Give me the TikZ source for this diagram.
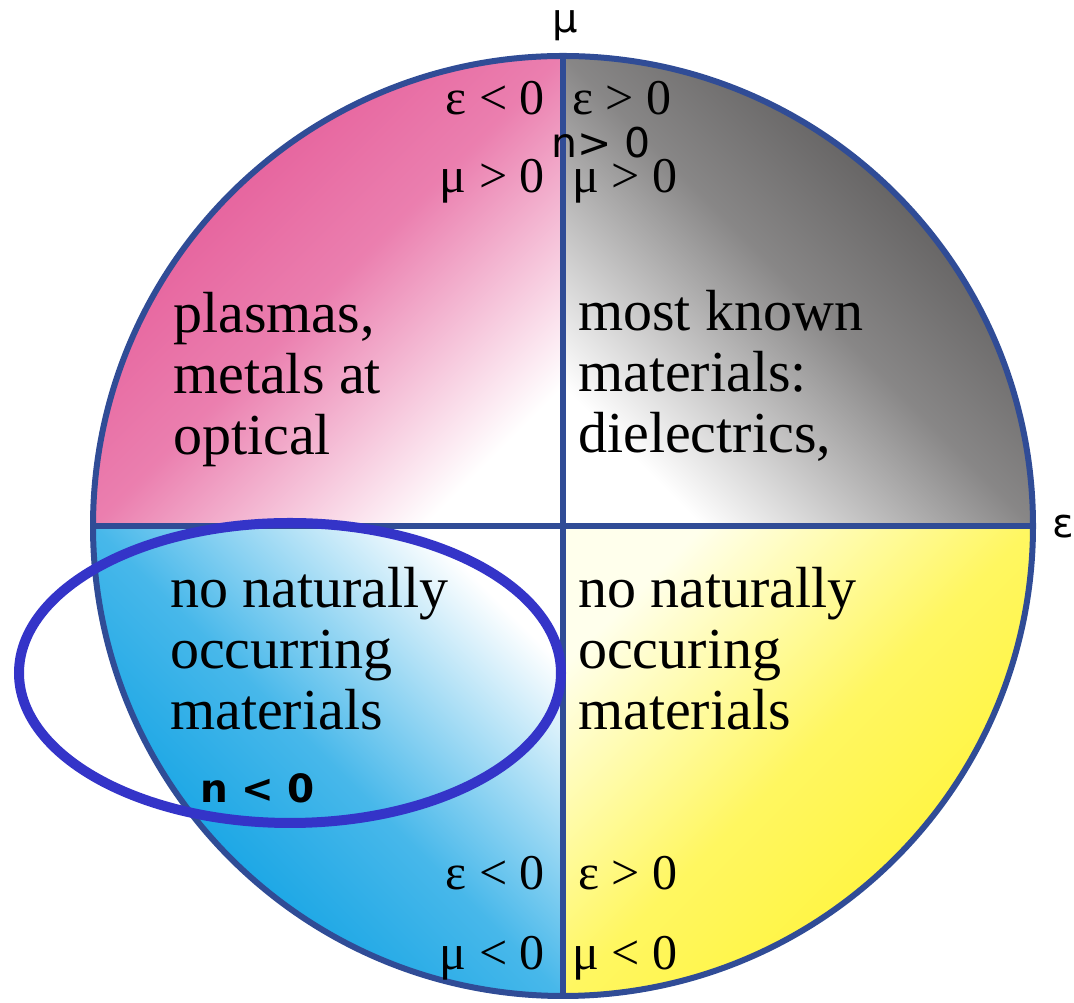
\documentclass[tikz,border=0pt]{standalone}
\usepackage{fontspec}
\setmainfont{Liberation Serif}
\newfontfamily\labelfont{DejaVu Sans}
\usetikzlibrary{positioning}
\definecolor{RimBlue}{RGB}{48,76,150}
\definecolor{PlasmaPink}{RGB}{228,84,148}
\definecolor{DielGray}{RGB}{80,78,78}
\definecolor{NegBlue}{RGB}{0,156,226}
\definecolor{MuYellow}{RGB}{255,244,50}
\definecolor{PaleYellow}{RGB}{255,255,236}
\definecolor{RingBlue}{RGB}{52,52,200}

\begin{document}
\begin{tikzpicture}[x=1pt, y=1pt,
        rim/.style={draw=RimBlue, line width=6pt},
        blurb/.style={anchor=base west, inner sep=0pt, align=left,
                    font=\fontsize{58}{61}\selectfont},
        sign/.style={inner sep=0pt, font=\fontsize{50}{54}\selectfont},
        axislabel/.style={inner sep=0pt, font=\labelfont\fontsize{40}{44}\selectfont}
]
    \useasboundingbox (0,0) rectangle (1074,1003);
    \coordinate (o) at (563,477);
    \coordinate (n) at ([yshift=470]o);
    \coordinate (s) at ([yshift=-470]o);
    \coordinate (w) at ([xshift=-470]o);
    \coordinate (e) at ([xshift=470]o);
    % four quadrants
    \shade[top color=PlasmaPink, bottom color=white, middle color=PlasmaPink!75!white, shading angle=45]
        (o) -- (w) arc[start angle=180, end angle=90, radius=470] -- cycle;
    \shade[top color=DielGray, bottom color=white, middle color=DielGray!68!white, shading angle=-45]
        (o) -- (n) arc[start angle=90, end angle=0, radius=470] -- cycle;
    \shade[top color=white, bottom color=NegBlue, middle color=NegBlue!72!white, shading angle=-45]
        (o) -- (s) arc[start angle=270, end angle=180, radius=470] -- cycle;
    \shade[top color=PaleYellow, bottom color=MuYellow, middle color=MuYellow!75!PaleYellow, shading angle=45]
        (o) -- (e) arc[start angle=0, end angle=-90, radius=470] -- cycle;
    \draw[rim] (o) circle[radius=470];
    \draw[rim] (n) -- (s);
    \draw[rim] (w) -- (e);
    % axis labels
    \node[axislabel, anchor=base] (muaxis) at (565,970) {μ};
    \node[axislabel, anchor=base west] (epsaxis) at (1052,465) {ε};
    % signs
    \node[sign, anchor=base east] (tleps) at (545,888) {ε < 0};
    \node[sign, anchor=base east] (tlmu) at (545,810) {μ > 0};
    \node[sign, anchor=base west] (treps) at (572,888) {ε > 0};
    \node[sign, anchor=base west] (trmu) at (572,810) {μ > 0};
    \node[sign, anchor=base east] (bleps) at (545,113) {ε < 0};
    \node[sign, anchor=base east] (blmu) at (545,33) {μ < 0};
    \node[sign, anchor=base west] (breps) at (578,113) {ε > 0};
    \node[sign, anchor=base west] (brmu) at (572,33) {μ < 0};
    \node[axislabel, anchor=base, font=\labelfont\fontsize{41}{44}\selectfont] (npos) at (601,845) {n> 0};
    % descriptions (anchored on the last line)
    \node[blurb] (plasma) at (173,548) {plasmas,\\metals at\\optical};
    \node[blurb] (dielec) at (578,550) {most known\\materials:\\dielectrics,};
    \node[blurb] (lhm) at (170,273) {no naturally\\occurring\\materials};
    \node[blurb] (mng) at (578,273) {no naturally\\occuring\\materials};
    % negative index region
    \draw[RingBlue, line width=10pt] (290,330) ellipse[x radius=271, y radius=150];
    \node[axislabel, anchor=base west, font=\labelfont\bfseries\fontsize{39}{44}\selectfont] (nneg) at (200,200) {n < 0};
\end{tikzpicture}
\end{document}
